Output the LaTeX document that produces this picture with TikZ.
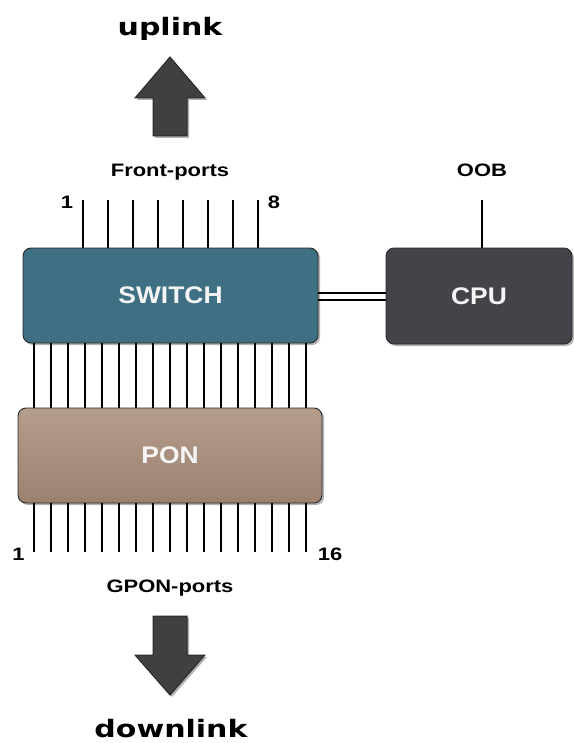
\documentclass[tikz,border=0pt]{standalone}
\usepackage{fontspec}
\usetikzlibrary{shadows}
\newfontfamily\labfont{Liberation Sans}[FakeStretch=1.22]
\newfontfamily\boxfont{Liberation Sans}[FakeStretch=1.1]
\newfontfamily\bigfont{DejaVu Sans}[FakeStretch=1.25]
\definecolor{swfill}{HTML}{3E6F83}
\definecolor{pontop}{HTML}{B59D8B}
\definecolor{ponbot}{HTML}{9C8170}
\definecolor{cpufill}{HTML}{444349}
\definecolor{arrfill}{HTML}{404040}
\definecolor{edge}{HTML}{2A2A2A}
\begin{document}
\begin{tikzpicture}[x=1pt,y=-1pt,
  blk/.style={draw=edge, line width=0.9pt, rounded corners=8pt, inner sep=0pt,
    text=white!96!black, font=\boxfont\bfseries\fontsize{24}{26}\selectfont,
    drop shadow={shadow xshift=2pt, shadow yshift=-2pt, opacity=0.3, fill=black}},
  lab/.style={font=\labfont\bfseries\fontsize{18}{20}\selectfont, anchor=base, inner sep=0pt},
  big/.style={font=\bigfont\bfseries\fontsize{24}{28}\selectfont, anchor=base, inner sep=0pt},
  port/.style={line width=1.8pt, black},
  bigarrow/.style={fill=arrfill, draw=edge, line width=1pt,
    drop shadow={shadow xshift=2pt, shadow yshift=-2pt, opacity=0.3, fill=black}}]
\useasboundingbox (0,0) rectangle (573,743);

% boxes
\node[blk, fill=swfill, minimum width=295pt, minimum height=95pt] (sw) at (170.5,295.5) {SWITCH};
\node[blk, top color=pontop, bottom color=ponbot, minimum width=304pt, minimum height=95pt] (pon) at (170,455.5) {PON};
\node[blk, fill=cpufill, minimum width=186pt, minimum height=96pt] (cpu) at (479,296) {CPU};

% front ports
\foreach \i in {0,...,7}{
  \coordinate (f\i) at ({83+25*\i},200);
  \draw[port] (f\i) -- (sw.north -| f\i);
}
% switch to pon
\foreach \i in {0,...,16}{
  \coordinate (m\i) at ({34+17*\i},0);
  \draw[port] (sw.south -| m\i) -- (pon.north -| m\i);
}
% gpon ports
\foreach \i in {0,...,16}{
  \coordinate (g\i) at ({34+17*\i},552);
  \draw[port] (pon.south -| g\i) -- (g\i);
}
% OOB
\coordinate (oobend) at (482,200);
\draw[port] (oobend) -- (cpu.north -| oobend);
% switch-cpu double link
\coordinate (lk1) at (0,293);
\coordinate (lk2) at (0,300);
\draw[port] (sw.east |- lk1) -- (cpu.west |- lk1);
\draw[port] (sw.east |- lk2) -- (cpu.west |- lk2);

% labels
\node[big] (up) at (170,36) {uplink};
\node[lab] (fp) at (170,177) {Front-ports};
\node[lab] (n1) at (67,209) {1};
\node[lab] (n8) at (274,209) {8};
\node[lab] (oob) at (482,177) {OOB};
\node[lab] (b1) at (18.5,560) {1};
\node[lab] (b16) at (330,560) {16};
\node[lab] (gp) at (170,592) {GPON-ports};
\node[big] (down) at (171,737) {downlink};

% arrows
\path[bigarrow] (153,136) -- (153,98) -- (135,98) -- (170,57) -- (205,98) -- (187,98) -- (187,136) -- cycle;
\path[bigarrow] (153,616) -- (187,616) -- (187,655) -- (205,655) -- (170,695) -- (135,655) -- (153,655) -- cycle;
\end{tikzpicture}
\end{document}
